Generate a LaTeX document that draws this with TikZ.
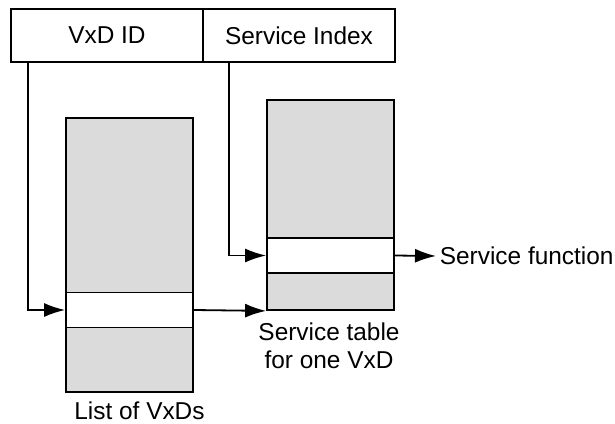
\documentclass[tikz,border=0pt]{standalone}
\usepackage{fontspec}
\setmainfont{Liberation Sans}
\usetikzlibrary{positioning, arrows.meta}

\definecolor{tablegray}{gray}{0.86}

\begin{document}
\begin{tikzpicture}[x=0.5pt, y=-0.5pt, line width=0.9pt,
    font=\fontsize{12.2}{14}\selectfont,
    field/.style={draw, minimum width=96pt, minimum height=26.5pt, inner sep=0pt},
    table/.style={draw, fill=tablegray, minimum width=63.5pt, inner sep=0pt},
    slot/.style={draw, fill=white, minimum width=63.5pt, minimum height=17.5pt, inner sep=0pt},
    ptr/.style={-{Latex[length=10.5pt, width=7pt]}}]
    \useasboundingbox (0, 0) rectangle (615, 423);

    % Call operand fields
    \node[field] (vxdid) at (107, 35.5) {VxD ID};
    \node[field] (svcidx) at (299, 35.5) {Service Index};

    % Tables with the selected entry
    \node[table, minimum height=137pt] (vxdlist) at (129.5, 255) {};
    \node[slot] (vxdslot) at (129.5, 310) {};
    \node[table, minimum height=105pt] (svctab) at (330.5, 205) {};
    \node[slot] (svcslot) at (330.5, 255.5) {};

    % Captions (base = last line)
    \node[anchor=base, inner sep=0pt] (listlabel) at (139.5, 419) {List of VxDs};
    \node[anchor=base, align=center, inner sep=0pt] (tablabel) at (329, 368) {Service table\\for one VxD};
    \node[anchor=west, inner sep=1.5pt] (svcfn) at (436, 256) {Service function};

    % Pointers
    \draw[ptr] ([xshift=9pt]vxdid.south west) |- (vxdslot.west);
    \draw[ptr] ([xshift=13.5pt]svcidx.south west) |- (svcslot.west);
    \draw[ptr] (vxdslot.east) -- (svctab.south west);
    \draw[ptr] (svcslot.east) -- (svcfn.west);
\end{tikzpicture}
\end{document}
